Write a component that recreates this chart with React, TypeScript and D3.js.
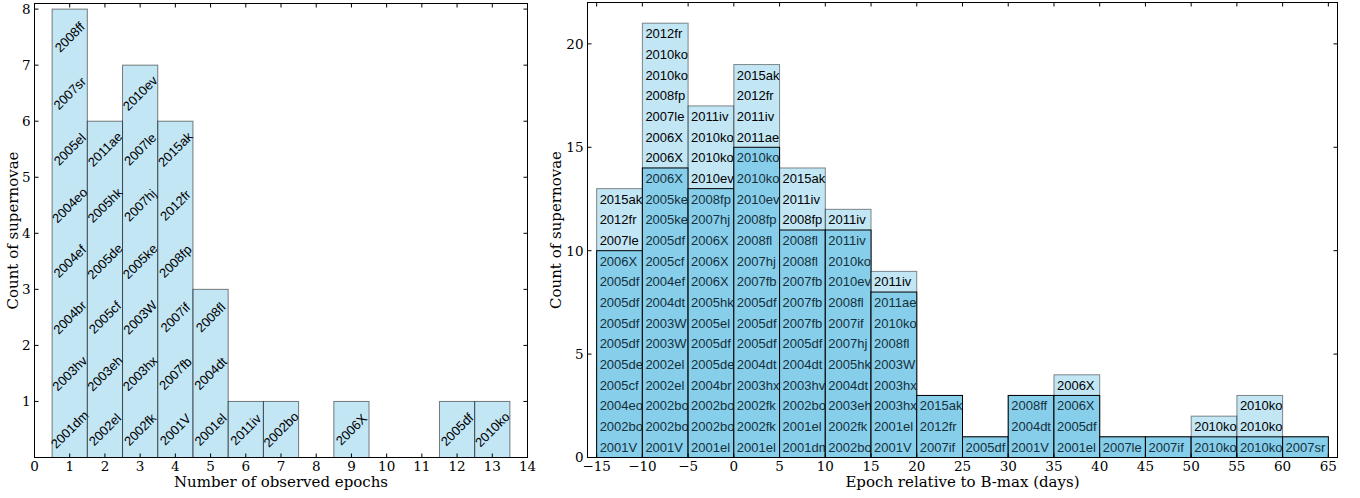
import React from 'react';
import * as d3 from 'd3';

// ---------- Left panel data: number of observed epochs ----------
const epochBins = [1, 2, 3, 4, 5, 6, 7, 9, 12, 13];
const epochLabels: string[][] = [
  ['2001dm', '2003hv', '2004br', '2004ef', '2004eo', '2005el', '2007sr', '2008ff'],
  ['2002el', '2003eh', '2005cf', '2005de', '2005hk', '2011ae'],
  ['2002fk', '2003hx', '2003W', '2005ke', '2007hj', '2007le', '2010ev'],
  ['2001V', '2007fb', '2007if', '2008fp', '2012fr', '2015ak'],
  ['2001el', '2004dt', '2008fl'],
  ['2011iv'],
  ['2002bo'],
  ['2006X'],
  ['2005df'],
  ['2010ko'],
];
const leftXTicks = d3.range(0, 15);
const leftYTicks = [1, 2, 3, 4, 5, 6, 7, 8];

// ---------- Right panel data: epoch relative to B-max ----------
const phaseBinStarts = [-15, -10, -5, 0, 5, 10, 15, 20, 25, 30, 35, 40, 45, 50, 55, 60];
const phaseBinWidth = 5;
// bottom to top
const phaseDarkLabels: string[][] = [
  ['2001V', '2002bo', '2004eo', '2005cf', '2005de', '2005df', '2005df', '2005df', '2005df', '2006X'],
  ['2001V', '2002bo', '2002bo', '2002el', '2002el', '2003W', '2003W', '2004dt', '2004ef', '2005cf', '2005df', '2005ke', '2005ke', '2006X'],
  ['2001el', '2002bo', '2002bo', '2004br', '2005de', '2005df', '2005el', '2005hk', '2006X', '2006X', '2006X', '2007hj', '2008fp'],
  ['2001el', '2002fk', '2002fk', '2003hx', '2004dt', '2005df', '2005df', '2005df', '2007fb', '2007hj', '2008fl', '2008fp', '2010ev', '2010ko', '2010ko'],
  ['2001dm', '2001el', '2002bo', '2003hv', '2004dt', '2005df', '2007fb', '2007fb', '2007fb', '2008fl', '2008fl'],
  ['2002bo', '2002fk', '2003eh', '2004dt', '2005hk', '2007hj', '2007if', '2008fl', '2010ev', '2010ko', '2011iv'],
  ['2001V', '2001el', '2003hx', '2003hx', '2003W', '2008fl', '2010ko', '2011ae'],
  ['2007if', '2012fr', '2015ak'],
  ['2005df'],
  ['2001V', '2004dt', '2008ff'],
  ['2001el', '2005df', '2006X'],
  ['2007le'],
  ['2007if'],
  ['2010ko'],
  ['2010ko'],
  ['2007sr'],
];
// stacked above the dark ones, bottom to top
const phaseLightLabels: string[][] = [
  ['2007le', '2012fr', '2015ak'],
  ['2006X', '2006X', '2007le', '2008fp', '2010ko', '2010ko', '2012fr'],
  ['2010ev', '2010ko', '2010ko', '2011iv'],
  ['2011ae', '2011iv', '2012fr', '2015ak'],
  ['2008fp', '2011iv', '2015ak'],
  ['2011iv'],
  ['2011iv'],
  [],
  [],
  [],
  ['2006X'],
  [],
  [],
  ['2010ko'],
  ['2010ko', '2010ko'],
  [],
];
const rightXTicks = d3.range(-15, 66, 5);
const rightYTicks = [0, 5, 10, 15, 20];

const SERIF = '"DejaVu Serif", serif';
const SANS = '"Liberation Sans", Arial, sans-serif';
const SKY = '#87ceeb';
const TICK_FS = 13.5;
const LABEL_FS = 15;
const CELL_FS = 13;

const fmt = (v: number) => (v < 0 ? '\u2212' + Math.abs(v) : String(v));

function Frame({ x, y, xTicks, yTicks, xLabel, yLabelX }: any) {
  const [x0, x1] = x.range();
  const [y0, y1] = y.range();
  const tl = 4;
  return (
    <g>
      {xTicks.map((t: number) => (
        <g key={'xt' + t}>
          <line x1={x(t)} x2={x(t)} y1={y0} y2={y0 - tl} stroke="black" />
          <line x1={x(t)} x2={x(t)} y1={y1} y2={y1 + tl} stroke="black" />
          <text x={x(t)} y={y0 + 13} fontFamily={SERIF} fontSize={TICK_FS} textAnchor="middle">
            {fmt(t)}
          </text>
        </g>
      ))}
      {yTicks.map((t: number) => (
        <g key={'yt' + t}>
          <line x1={x0} x2={x0 + tl} y1={y(t)} y2={y(t)} stroke="black" />
          <line x1={x1} x2={x1 - tl} y1={y(t)} y2={y(t)} stroke="black" />
          <text x={x0 - 4} y={y(t)} dy="0.36em" fontFamily={SERIF} fontSize={TICK_FS} textAnchor="end">
            {fmt(t)}
          </text>
        </g>
      ))}
      <rect x={x0} y={y1} width={x1 - x0} height={y0 - y1} fill="none" stroke="black" strokeWidth={1} />
      <text x={(x0 + x1) / 2} y={y0 + 29.5} fontFamily={SERIF} fontSize={LABEL_FS} textAnchor="middle">
        {xLabel}
      </text>
      <text
        transform={`translate(${yLabelX},${(y0 + y1) / 2}) rotate(-90)`}
        fontFamily={SERIF}
        fontSize={LABEL_FS}
        textAnchor="middle"
      >
        Count of supernovae
      </text>
    </g>
  );
}

export default function App() {
  const xL = d3.scaleLinear().domain([0, 14]).range([34.5, 527.5]);
  const yL = d3.scaleLinear().domain([0, 8.1]).range([457.5, 3.5]);
  const xR = d3.scaleLinear().domain([-16, 66]).range([587.5, 1337.5]);
  const yR = d3.scaleLinear().domain([0, 22]).range([457.5, 2.5]);

  return (
    <svg width={1360} height={498} style={{ position: 'absolute', left: 0, top: 0, background: 'white' }}>
      <rect width={1360} height={498} fill="white" />
      {/* Left panel bars */}
      {epochBins.map((b, i) => {
        const labels = epochLabels[i];
        const n = labels.length;
        return (
          <g key={'lb' + b}>
            <rect
              x={xL(b - 0.5)}
              y={yL(n)}
              width={xL(b + 0.5) - xL(b - 0.5)}
              height={yL(0) - yL(n)}
              fill={SKY}
              fillOpacity={0.5}
              stroke="black"
              strokeOpacity={0.5}
            />
            {labels.map((lab, k) => {
              const cx = xL(b);
              const cy = yL(k + 0.5);
              return (
                <text
                  key={k}
                  transform={`translate(${cx},${cy}) rotate(-45)`}
                  fontFamily={SANS}
                  fontSize={13}
                  textAnchor="middle"
                  dy="0.35em"
                  fill="black"
                >
                  {lab}
                </text>
              );
            })}
          </g>
        );
      })}
      <Frame x={xL} y={yL} xTicks={leftXTicks} yTicks={leftYTicks} xLabel="Number of observed epochs" yLabelX={18} />

      {/* Right panel bars */}
      {phaseBinStarts.map((s, i) => {
        const dark = phaseDarkLabels[i];
        const light = phaseLightLabels[i];
        const nd = dark.length;
        const nt = nd + light.length;
        const bx = xR(s);
        const bw = xR(s + phaseBinWidth) - xR(s);
        return (
          <g key={'rb' + s}>
            <rect x={bx} y={yR(nt)} width={bw} height={yR(0) - yR(nt)} fill={SKY} fillOpacity={0.5} stroke="black" strokeOpacity={0.45} />
            <rect x={bx} y={yR(nd)} width={bw} height={yR(0) - yR(nd)} fill={SKY} stroke="black" strokeWidth={1} />
            {dark.map((lab, k) => (
              <text key={'d' + k} x={bx + 3} y={yR(k + 0.5)} dy="0.36em" fontFamily={SANS} fontSize={CELL_FS} fill="#16303a">
                {lab}
              </text>
            ))}
            {light.map((lab, k) => (
              <text key={'l' + k} x={bx + 3} y={yR(nd + k + 0.5)} dy="0.36em" fontFamily={SANS} fontSize={CELL_FS} fill="black">
                {lab}
              </text>
            ))}
          </g>
        );
      })}
      <Frame x={xR} y={yR} xTicks={rightXTicks} yTicks={rightYTicks} xLabel="Epoch relative to B-max (days)" yLabelX={561} />
    </svg>
  );
}
